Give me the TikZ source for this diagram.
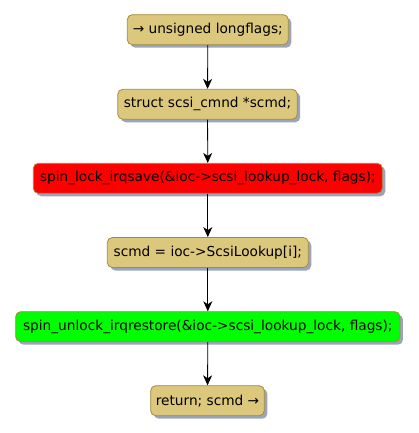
\documentclass[tikz,border=0pt]{standalone}
\usepackage{fontspec}
\setmainfont{DejaVu Sans}
\usetikzlibrary{arrows.meta,shadows}
\definecolor{boxfill}{HTML}{DCC87C}
\definecolor{boxline}{HTML}{A38A3E}
\definecolor{shadowc}{HTML}{9AA5BA}
\definecolor{redfill}{HTML}{FF0000}
\definecolor{greenfill}{HTML}{00FF00}
\tikzset{
  act/.style={draw=boxline, line width=0.8pt, rounded corners=5pt, minimum height=30pt,
    inner xsep=0pt, font=\fontsize{13.7pt}{15pt}\selectfont, text=black,
    drop shadow={shadow xshift=3pt, shadow yshift=-3pt, fill=shadowc, opacity=1}},
  flow/.style={draw=black, line width=0.8pt, -{Stealth[length=10pt,width=9pt,inset=3pt]}}
}
\begin{document}
\begin{tikzpicture}[x=1pt,y=-1pt]
\useasboundingbox (0,0) rectangle (418,433);
\node[act, fill=boxfill, minimum width=161pt] (n1) at (207.8,29.7) {→ unsigned longflags;};
\node[act, fill=boxfill, minimum width=179.4pt] (n2) at (207.5,104.3) {struct scsi\_cmnd *scmd;};
\node[act, fill=redfill, minimum width=349pt] (n3) at (207.8,178.3) {spin\_lock\_irqsave(\&ioc->scsi\_lookup\_lock, flags);};
\node[act, fill=boxfill, minimum width=201pt] (n4) at (207.8,252.5) {scmd = ioc->ScsiLookup[i];};
\node[act, fill=greenfill, minimum width=384.3pt] (n5) at (207.8,326.7) {spin\_unlock\_irqrestore(\&ioc->scsi\_lookup\_lock, flags);};
\node[act, fill=boxfill, minimum width=113.6pt] (n6) at (207.5,400.7) {return; scmd →};
\draw[flow] (n1) -- (n2);
\draw[flow] (n2) -- (n3);
\draw[flow] (n3) -- (n4);
\draw[flow] (n4) -- (n5);
\draw[flow] (n5) -- (n6);
\end{tikzpicture}
\end{document}
